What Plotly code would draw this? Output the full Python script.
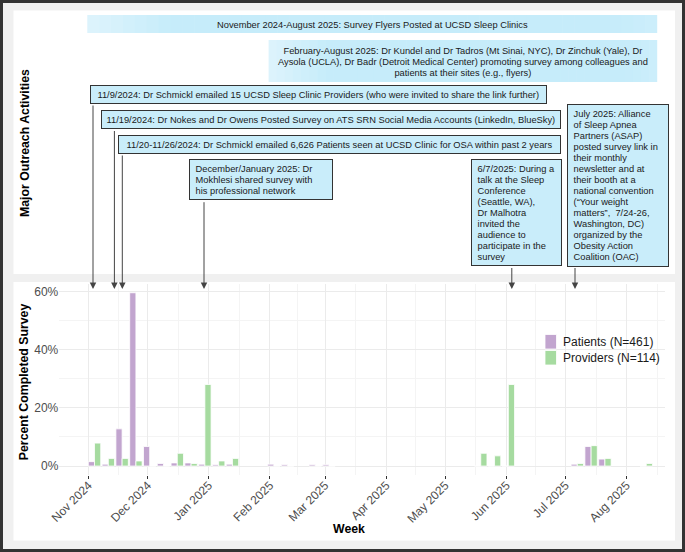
import plotly.graph_objects as go
import pandas as pd

W, H = 685, 552

# ---------------- data ----------------
weeks = ["2024-11-04", "2024-11-11", "2024-11-18", "2024-11-25", "2024-12-02", "2024-12-09",
         "2024-12-16", "2024-12-23", "2024-12-30", "2025-01-06", "2025-01-13", "2025-02-03",
         "2025-02-10", "2025-02-24", "2025-03-03", "2025-05-19", "2025-05-26", "2025-06-02",
         "2025-07-07", "2025-07-14", "2025-07-21", "2025-08-11"]
patients_pct = [1.52, 0.65, 12.80, 59.65, 6.72, 0.87, 1.08, 1.08, 0.65, 0.43, 0.65, 0.65,
                0.43, 0.43, 0.43, 0, 0, 0, 0.65, 6.72, 2.39, 0]
providers_pct = [7.89, 2.63, 2.63, 1.75, 0, 0, 4.39, 0.88, 28.07, 1.75, 2.63, 0,
                 0, 0, 0, 4.39, 3.51, 28.07, 0.88, 7.02, 2.63, 0.88]
series_names = ["Patients (N=461)", "Providers (N=114)"]
series_colors = ["#c2a5cf", "#a6dba0"]

month_ticks = ["2024-11-01", "2024-12-01", "2025-01-01", "2025-02-01", "2025-03-01",
               "2025-04-01", "2025-05-01", "2025-06-01", "2025-07-01", "2025-08-01"]
month_labels = ["Nov 2024", "Dec 2024", "Jan 2025", "Feb 2025", "Mar 2025",
                "Apr 2025", "May 2025", "Jun 2025", "Jul 2025", "Aug 2025"]
pct_ticks = [0, 20, 40, 60]
pct_labels = ["0%", "20%", "40%", "60%"]
pct_minor = [10, 30, 50]

banner_texts = [
    ["November 2024-August 2025: Survey Flyers Posted at UCSD Sleep Clinics"],
    ["February-August 2025: Dr Kundel and Dr Tadros (Mt Sinai, NYC), Dr Zinchuk (Yale), Dr",
     "Aysola (UCLA), Dr Badr (Detroit Medical Center) promoting survey among colleagues and",
     "patients at their sites (e.g., flyers)"],
]
box_texts = [
    ["11/9/2024: Dr Schmickl emailed 15 UCSD Sleep Clinic Providers (who were invited to share the link further)"],
    ["11/19/2024: Dr Nokes and Dr Owens Posted Survey on ATS SRN Social Media Accounts (LinkedIn, BlueSky)"],
    ["11/20-11/26/2024: Dr Schmickl emailed 6,626 Patients seen at UCSD Clinic for OSA within past 2 years"],
    ["December/January 2025: Dr", "Mokhlesi shared survey with", "his professional network"],
    ["6/7/2025: During a", "talk at the Sleep", "Conference", "(Seattle, WA),", "Dr Malhotra",
     "invited the", "audience to", "participate in the", "survey"],
    ["July 2025: Alliance", "of Sleep Apnea", "Partners (ASAP)", "posted survey link in",
     "their monthly", "newsletter and at", "their booth at a", "national convention",
     "(\u201cYour weight", "matters\u201d, \u00a07/24-26,", "Washington, DC)", "organized by the",
     "Obesity Action", "Coalition (OAC)"],
]

# ---------------- layout geometry (pixels) ----------------
def PX(x):
    return x / W


def PY(y):
    return 1 - y / H


FONT = "Liberation Sans, Arial, Helvetica, sans-serif"
BASE = 8.5      # controls line spacing (1.3 em -> ~11 px)
GLYPH = 9.3     # visible glyph size
LINE = BASE * 1.3


def ml(lines, pad=False):
    pre = "\u00a0" if pad else ""
    return "<br>".join(f"<span style='font-size:{GLYPH}px'>{pre}{l}</span>" for l in lines)


# box geometry: left, top, right, align
box_geom = [
    (89.5, 85.0, 546.0, "center"),
    (101.3, 110.5, 561.0, "center"),
    (118.0, 135.0, 561.0, "center"),
    (188.6, 159.0, 332.8, "left"),
    (471.0, 159.0, 561.5, "left"),
    (567.0, 103.5, 669.0, "left"),
]
banner_geom = [(87.3, 15.0, 657.2, 33.0), (268.6, 40.0, 657.2, 82.0)]
arrow_geom = [(93.0, 104.0), (114.4, 129.5), (122.3, 154.0), (204.0, 200.7),
              (511.8, 266.5), (575.0, 266.5)]
ARROW_TIP = 289.0

# ---------------- figure ----------------
fig = go.Figure()
for name, vals, col in zip(series_names, [patients_pct, providers_pct], series_colors):
    fig.add_trace(go.Bar(x=weeks, y=vals, name=name,
                         marker=dict(color=col, line=dict(color="white", width=0.8)),
                         showlegend=False))

shapes = []
# panels
shapes.append(dict(type="rect", xref="paper", yref="paper", x0=PX(13.5), x1=PX(675), y0=PY(274), y1=PY(10.5),
                   fillcolor="white", line=dict(width=0), layer="below"))
shapes.append(dict(type="rect", xref="paper", yref="paper", x0=PX(13.5), x1=PX(675), y0=PY(540.5), y1=PY(282),
                   fillcolor="white", line=dict(width=0), layer="below"))


def lerp(c1, c2, t):
    a = [int(c1[i:i + 2], 16) for i in (1, 3, 5)]
    b = [int(c2[i:i + 2], 16) for i in (1, 3, 5)]
    return "rgb(%d,%d,%d)" % tuple(round(a[k] + (b[k] - a[k]) * t) for k in range(3))


EDGE, BODY, REDGE = "#def4fc", "#c6ecfa", "#cdeefb"
N = 48
for (x0, y0, x1, y1) in banner_geom:
    w = (x1 - x0) / N
    for i in range(N):
        t = (i + 0.5) / N
        if t < 0.15:
            c = lerp(EDGE, BODY, t / 0.15)
        elif t > 0.92:
            c = lerp(BODY, REDGE, (t - 0.92) / 0.08)
        else:
            c = lerp(BODY, BODY, 0)
        shapes.append(dict(type="rect", xref="paper", yref="paper", x0=PX(x0 + i * w),
                           x1=PX(min(x0 + (i + 1) * w + 0.6, x1)),
                           y0=PY(y1), y1=PY(y0), fillcolor=c, line=dict(width=0), layer="below"))

# legend keys
legend_keys = [(545.0, 334.5, 556.5, 349.0), (545.0, 350.5, 556.5, 365.0)]
for (x0, y0, x1, y1), col in zip(legend_keys, series_colors):
    shapes.append(dict(type="rect", xref="paper", yref="paper", x0=PX(x0), x1=PX(x1), y0=PY(y1), y1=PY(y0),
                       fillcolor=col, line=dict(color="white", width=0.8), layer="above"))

# outer border
shapes.append(dict(type="rect", xref="paper", yref="paper", x0=PX(1.5), x1=PX(683.5), y0=PY(550.5), y1=PY(1.5),
                   fillcolor="rgba(0,0,0,0)", line=dict(color="#333333", width=3), layer="above"))

ann = []
# banners
for (x0, y0, x1, y1), lines in zip(banner_geom, banner_texts):
    ann.append(dict(xref="paper", yref="paper", x=PX((x0 + x1) / 2), y=PY((y0 + y1) / 2 + 0.5),
                    xanchor="center", yanchor="middle", showarrow=False, align="center",
                    text=ml(lines), font=dict(family=FONT, size=BASE, color="#1a1a1a")))
# boxes
for (x0, y0, x1, al), lines in zip(box_geom, box_texts):
    ann.append(dict(xref="paper", yref="paper", x=PX(x0), y=PY(y0), xanchor="left", yanchor="top",
                    showarrow=False, align=al, valign="middle",
                    width=(x1 - x0) - 8, height=len(lines) * LINE,
                    text=ml(lines, pad=(al == "left")), font=dict(family=FONT, size=BASE, color="#1a1a1a"),
                    bgcolor="#c9edfa", bordercolor="#333333", borderwidth=1, borderpad=3))
# arrows
for (ax_, tail) in arrow_geom:
    ann.append(dict(xref="paper", yref="paper", x=PX(ax_), y=PY(ARROW_TIP), text="", showarrow=True,
                    ax=0, ay=-(ARROW_TIP - tail), axref="pixel", ayref="pixel",
                    arrowhead=2, arrowsize=1.3, arrowwidth=1, arrowcolor="#444444", standoff=0, startstandoff=0))
# titles
TSIZE = 12.3
ann.append(dict(xref="paper", yref="paper", x=PX(25), y=PY(143), textangle=-90, showarrow=False,
                text="<b>Major Outreach Activities</b>", font=dict(family=FONT, size=TSIZE, color="black"),
                xanchor="center", yanchor="middle"))
ann.append(dict(xref="paper", yref="paper", x=PX(23.5), y=PY(381.7), textangle=-90, showarrow=False,
                text="<b>Percent Completed Survey</b>", font=dict(family=FONT, size=TSIZE, color="black"),
                xanchor="center", yanchor="middle"))
ann.append(dict(xref="paper", yref="paper", x=PX(349), y=PY(529), showarrow=False,
                text="<b>Week</b>", font=dict(family=FONT, size=TSIZE, color="black"),
                xanchor="center", yanchor="middle"))
# legend labels
for (x0, y0, x1, y1), name in zip(legend_keys, series_names):
    ann.append(dict(xref="paper", yref="paper", x=PX(561), y=PY((y0 + y1) / 2), showarrow=False,
                    text=name, font=dict(family=FONT, size=12, color="#1a1a1a"),
                    xanchor="left", yanchor="middle"))

# minor x grid: midpoints between months
mt = pd.to_datetime(month_ticks)
edges = [mt[0] - pd.DateOffset(months=1)] + list(mt) + [mt[-1] + pd.DateOffset(months=1)]
minor_x = [(edges[i] + (edges[i + 1] - edges[i]) / 2).strftime("%Y-%m-%d %H:%M") for i in range(len(edges) - 1)]

fig.update_layout(
    width=W, height=H, autosize=False,
    margin=dict(l=0, r=0, t=0, b=0, pad=0, autoexpand=False),
    paper_bgcolor="#f0f0f0", plot_bgcolor="rgba(0,0,0,0)",
    barmode="group", bargap=0.1, bargroupgap=0,
    showlegend=False,
    font=dict(family=FONT, color="#4d4d4d"),
    shapes=shapes, annotations=ann,
    xaxis=dict(domain=[PX(59.3), PX(665)], type="date", automargin=False,
               range=["2024-10-17 03:00", "2025-08-20 12:00"],
               tickmode="array", tickvals=month_ticks, ticktext=month_labels, tickangle=-45,
               tickfont=dict(family=FONT, size=12, color="#4d4d4d"), ticklabelstandoff=-5,
               ticks="outside", ticklen=3, tickwidth=1, tickcolor="#333333",
               showgrid=True, gridcolor="#ebebeb", gridwidth=1, zeroline=False, showline=False,
               minor=dict(tickmode="array", tickvals=minor_x, showgrid=True, gridcolor="#f4f4f4",
                          gridwidth=1, ticks=""),
               fixedrange=True),
    yaxis=dict(domain=[PY(474.7), PY(284.1)], range=[-2.98, 62.63], automargin=False,
               tickmode="array", tickvals=pct_ticks, ticktext=pct_labels,
               tickfont=dict(family=FONT, size=12, color="#4d4d4d"), ticks="",
               showgrid=True, gridcolor="#ebebeb", gridwidth=1, zeroline=False, showline=False,
               minor=dict(tickmode="array", tickvals=pct_minor, showgrid=True, gridcolor="#f4f4f4",
                          gridwidth=1, ticks=""),
               fixedrange=True),
)

fig.write_html("out.html", config={"displayModeBar": False})
